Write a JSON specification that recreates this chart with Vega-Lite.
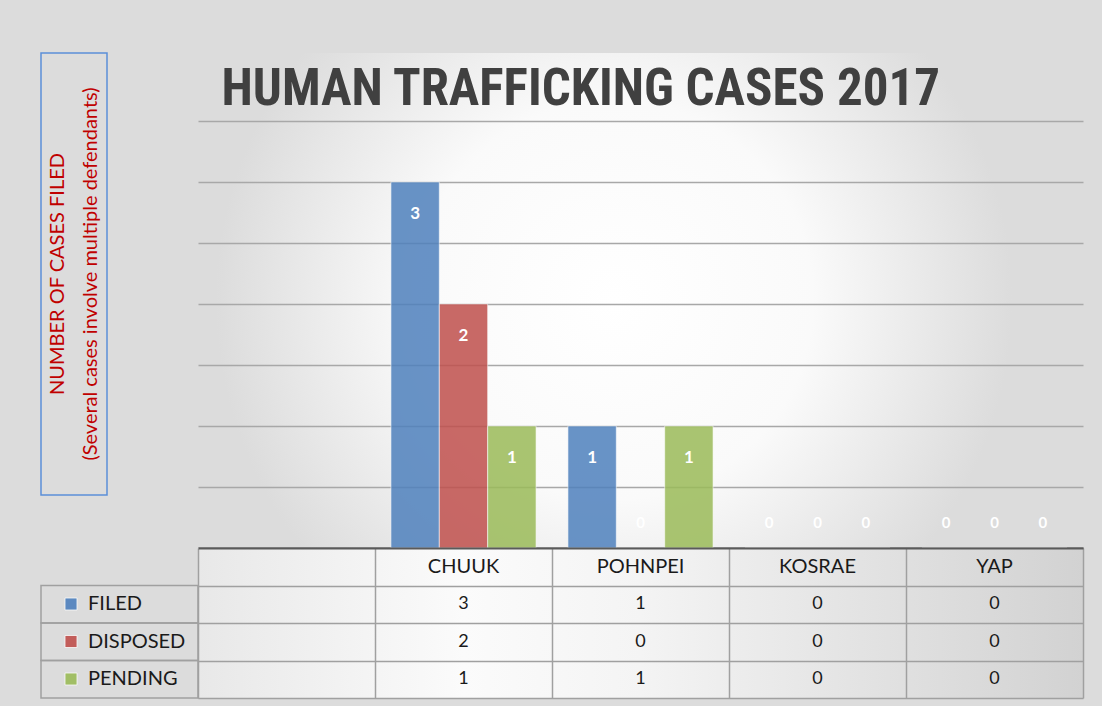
{
  "$schema": "https://vega.github.io/schema/vega-lite/v6.json",
  "background": "#dcdcdc",
  "padding": {"left": 40, "top": 52, "right": 20, "bottom": 9},
  "autosize": {"type": "pad"},
  "datasets": {
    "cases": [
      {"state": "CHUUK", "series": "FILED", "value": 3},
      {"state": "CHUUK", "series": "DISPOSED", "value": 2},
      {"state": "CHUUK", "series": "PENDING", "value": 1},
      {"state": "POHNPEI", "series": "FILED", "value": 1},
      {"state": "POHNPEI", "series": "DISPOSED", "value": 0},
      {"state": "POHNPEI", "series": "PENDING", "value": 1},
      {"state": "KOSRAE", "series": "FILED", "value": 0},
      {"state": "KOSRAE", "series": "DISPOSED", "value": 0},
      {"state": "KOSRAE", "series": "PENDING", "value": 0},
      {"state": "YAP", "series": "FILED", "value": 0},
      {"state": "YAP", "series": "DISPOSED", "value": 0},
      {"state": "YAP", "series": "PENDING", "value": 0}
    ]
  },
  "columns": 2,
  "spacing": 0,
  "bounds": "flush",
  "align": "each",
  "concat": [
    {
      "width": 66,
      "height": 442,
      "data": {"values": [{"label": "NUMBER OF CASES FILED\n(Several cases involve multiple defendants)"}]},
      "view": {"stroke": "#5b8fd8", "strokeWidth": 1.5, "fill": null},
      "mark": {"type": "text", "angle": 270, "lineBreak": "\n", "lineHeight": 33, "dy": -16.5, "font": "Lato", "fontSize": 20, "color": "#c00000", "align": "center", "baseline": "middle"},
      "encoding": {"text": {"field": "label"}}
    },
    {
      "width": 885,
      "height": 495,
      "data": {"name": "cases"},
      "view": {"stroke": null, "fill": {"gradient": "radial", "x1": 0.47, "y1": 0.5, "x2": 0.47, "y2": 0.5, "r1": 0, "r2": 0.45, "stops": [{"offset": 0, "color": "#ffffff"}, {"offset": 0.5, "color": "#fafafa"}, {"offset": 1, "color": "#dcdcdc"}]}},
      "encoding": {
        "x": {"field": "state", "type": "nominal", "scale": {"domain": [" ", "CHUUK", "POHNPEI", "KOSRAE", "YAP"], "paddingInner": 0.18, "paddingOuter": 0.09}, "axis": {"labels": false, "ticks": false, "domain": true, "domainColor": "#5a5a5a", "domainWidth": 2, "title": null, "grid": false}},
        "xOffset": {"field": "series", "type": "nominal", "scale": {"domain": ["FILED", "DISPOSED", "PENDING"], "paddingInner": 0, "paddingOuter": 0}},
        "y": {"field": "value", "type": "quantitative", "scale": {"domain": [0, 4.0574], "nice": false, "zero": true}, "axis": {"values": [0.5, 1, 1.5, 2, 2.5, 3, 3.5], "grid": true, "gridColor": "#a8a8a8", "gridWidth": 1.3, "labels": false, "ticks": false, "domain": false, "title": "HUMAN TRAFFICKING CASES 2017", "titleAngle": 0, "titleX": 23, "titleY": 51, "titleAlign": "left", "titleBaseline": "alphabetic", "titleFont": "Liberation Sans Narrow, Roboto Condensed, sans-serif", "titleFontSize": 51, "titleFontWeight": "bold", "titleColor": "#404040"}}
      },
      "layer": [
        {
          "mark": {"type": "bar", "opacity": 0.85, "stroke": "#ffffff", "strokeWidth": 1, "strokeOpacity": 0.6},
          "encoding": {
            "color": {"field": "series", "type": "nominal", "scale": {"domain": ["FILED", "DISPOSED", "PENDING"], "range": ["#4f81bd", "#c0504d", "#9bbb59"]}, "legend": {"title": null, "orient": "none", "legendX": 20, "legendY": 541, "direction": "vertical", "symbolType": "square", "symbolSize": 144, "symbolOpacity": 0.9, "symbolStrokeColor": "#ffffff", "symbolStrokeWidth": 0.8, "labelFont": "Lato", "labelFontSize": 20, "labelColor": "#1a1a1a", "labelOffset": 7, "rowPadding": 17.5, "padding": 0, "offset": 0}}
          }
        },
        {
          "transform": [{"filter": "datum.value > 0"}],
          "mark": {"type": "text", "baseline": "middle", "dy": 32, "font": "Lato", "fontSize": 17, "fontWeight": "bold", "color": "#ffffff"},
          "encoding": {"text": {"field": "value", "type": "quantitative"}}
        },
        {
          "transform": [{"filter": "datum.value == 0"}],
          "mark": {"type": "text", "baseline": "middle", "dy": -25, "font": "Lato", "fontSize": 15, "fontWeight": "bold", "color": "#ffffff"},
          "encoding": {"text": {"field": "value", "type": "quantitative"}}
        }
      ]
    },
    {
      "width": 157,
      "height": 150,
      "data": {"name": "cases"},
      "transform": [{"filter": "datum.state == 'CHUUK'"}],
      "view": {"stroke": null, "fill": null},
      "mark": {"type": "rect", "filled": false, "stroke": "#a0a0a0", "strokeWidth": 1.5},
      "encoding": {
        "y": {"field": "series", "type": "nominal", "scale": {"domain": ["HDR", "FILED", "DISPOSED", "PENDING"], "paddingInner": 0, "paddingOuter": 0}, "axis": null}
      }
    },
    {
      "width": 885,
      "height": 150,
      "data": {"name": "cases"},
      "view": {"stroke": null, "fill": {"gradient": "linear", "x1": 0, "y1": 0, "x2": 1, "y2": 0, "stops": [{"offset": 0, "color": "#e8e8e8"}, {"offset": 0.3, "color": "#fbfbfb"}, {"offset": 0.5, "color": "#f4f4f4"}, {"offset": 1, "color": "#d2d2d2"}]}},
      "encoding": {
        "x": {"field": "state", "type": "nominal", "scale": {"domain": [" ", "CHUUK", "POHNPEI", "KOSRAE", "YAP"], "paddingInner": 0, "paddingOuter": 0}, "axis": {"grid": true, "tickBand": "extent", "labels": false, "ticks": false, "domain": false, "title": null, "gridColor": "#a0a0a0", "gridWidth": 1.5}}
      },
      "layer": [
        {
          "mark": {"type": "text", "font": "Lato", "fontSize": 18, "color": "#1a1a1a", "baseline": "middle"},
          "encoding": {
            "y": {"field": "series", "type": "nominal", "scale": {"domain": ["HDR", "FILED", "DISPOSED", "PENDING"], "paddingInner": 0, "paddingOuter": 0}, "axis": {"grid": true, "tickBand": "extent", "labels": false, "ticks": false, "domain": false, "title": null, "gridColor": {"condition": {"test": "datum.extra", "value": "#5a5a5a"}, "value": "#a0a0a0"}, "gridWidth": {"condition": {"test": "datum.extra", "value": 2}, "value": 1.5}}},
            "text": {"field": "value", "type": "quantitative"}
          }
        },
        {
          "transform": [{"filter": "datum.series == 'FILED'"}],
          "mark": {"type": "text", "font": "Lato", "fontSize": 20, "color": "#1a1a1a", "baseline": "middle"},
          "encoding": {
            "y": {"datum": "HDR", "type": "nominal"},
            "text": {"field": "state", "type": "nominal"}
          }
        }
      ]
    }
  ]
}
